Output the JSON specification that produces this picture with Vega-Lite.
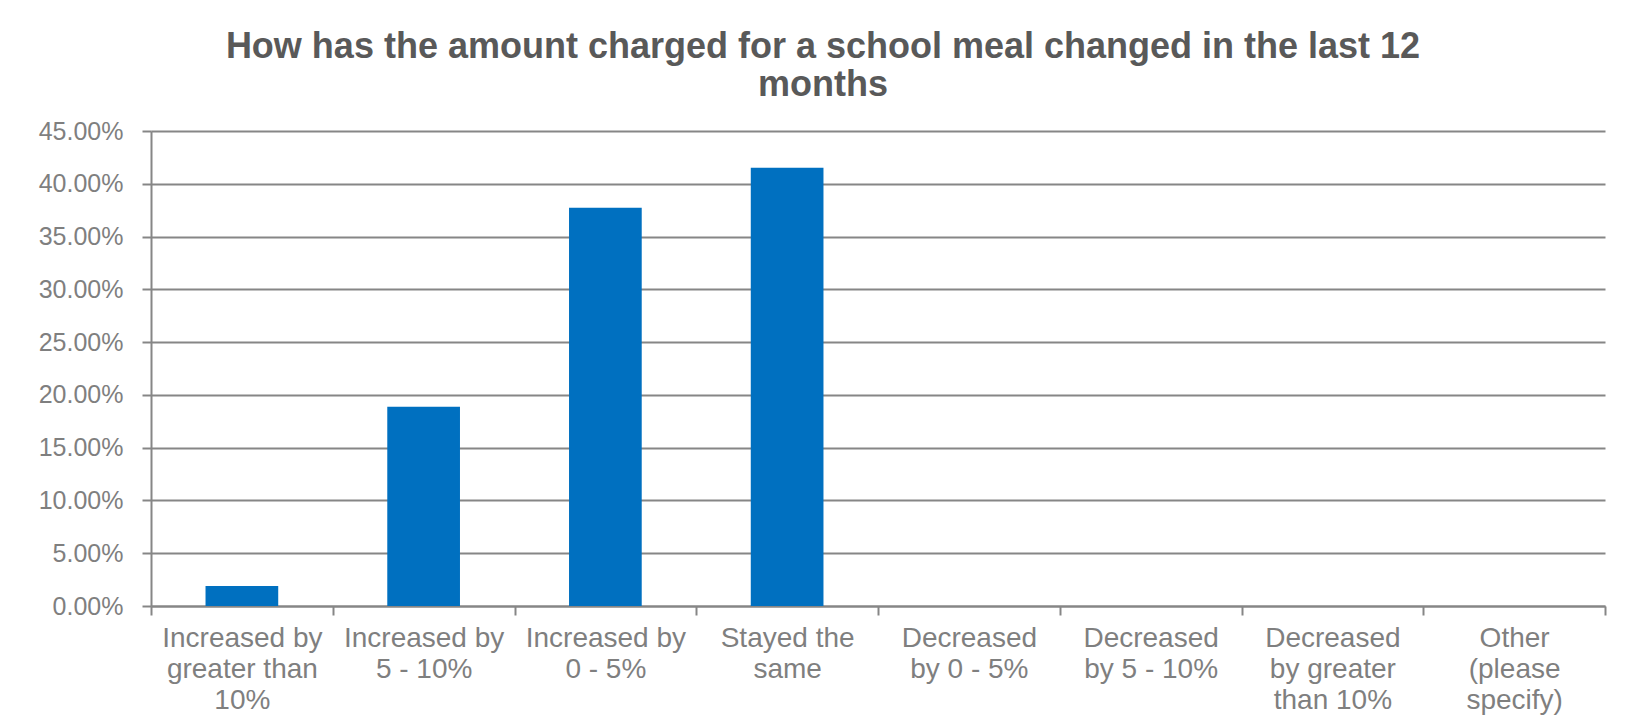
{
  "$schema": "https://vega.github.io/schema/vega-lite/v6.json",
  "width": 1454,
  "height": 475,
  "autosize": {"type": "none"},
  "padding": {"left": 151, "top": 131, "right": 22, "bottom": 118},
  "background": "white",
  "title": {
    "text": ["How has the amount charged for a school meal changed in the last 12", "months"],
    "font": "Liberation Sans",
    "fontSize": 36,
    "fontWeight": "bold",
    "color": "#595959",
    "anchor": "middle",
    "dx": -55,
    "offset": 15,
    "lineHeight": 38
  },
  "data": {
    "values": [
      {"category": "Increased by greater than 10%", "share": 0.0189},
      {"category": "Increased by 5 - 10%", "share": 0.1887},
      {"category": "Increased by 0 - 5%", "share": 0.3774},
      {"category": "Stayed the same", "share": 0.4151},
      {"category": "Decreased by 0 - 5%", "share": 0},
      {"category": "Decreased by 5 - 10%", "share": 0},
      {"category": "Decreased by greater than 10%", "share": 0},
      {"category": "Other (please specify)", "share": 0}
    ]
  },
  "mark": {"type": "bar", "color": "#0070C0", "width": {"band": 0.4}},
  "encoding": {
    "x": {
      "field": "category",
      "type": "nominal",
      "sort": null,
      "title": null,
      "scale": {"paddingInner": 0, "paddingOuter": 0},
      "axis": {
        "labelAngle": 0,
        "labelFont": "Liberation Sans",
        "labelFontSize": 28,
        "labelColor": "#7f7f7f",
        "labelLineHeight": 31,
        "labelPadding": 9,
        "labelLimit": 400,
        "tickBand": "extent",
        "tickSize": 9,
        "tickColor": "#868686",
        "tickWidth": 2,
        "domainColor": "#868686",
        "domainWidth": 2,
        "grid": false,
        "labelExpr": "datum.value == 'Increased by greater than 10%' ? ['Increased by', 'greater than', '10%'] : datum.value == 'Increased by 5 - 10%' ? ['Increased by', '5 - 10%'] : datum.value == 'Increased by 0 - 5%' ? ['Increased by', '0 - 5%'] : datum.value == 'Stayed the same' ? ['Stayed the', 'same'] : datum.value == 'Decreased by 0 - 5%' ? ['Decreased', 'by 0 - 5%'] : datum.value == 'Decreased by 5 - 10%' ? ['Decreased', 'by 5 - 10%'] : datum.value == 'Decreased by greater than 10%' ? ['Decreased', 'by greater', 'than 10%'] : datum.value == 'Other (please specify)' ? ['Other', '(please', 'specify)'] : ''"
      }
    },
    "y": {
      "field": "share",
      "type": "quantitative",
      "title": null,
      "scale": {"domain": [0, 0.45]},
      "axis": {
        "values": [0, 0.05, 0.1, 0.15, 0.2, 0.25, 0.3, 0.35, 0.4, 0.45],
        "format": ".2%",
        "labelFont": "Liberation Sans",
        "labelFontSize": 25,
        "labelColor": "#7f7f7f",
        "labelPadding": 19,
        "tickSize": 9,
        "tickColor": "#868686",
        "tickWidth": 2,
        "domainColor": "#868686",
        "domainWidth": 2,
        "gridColor": "#868686",
        "gridWidth": 2
      }
    }
  },
  "config": {
    "view": {"stroke": null}
  }
}
